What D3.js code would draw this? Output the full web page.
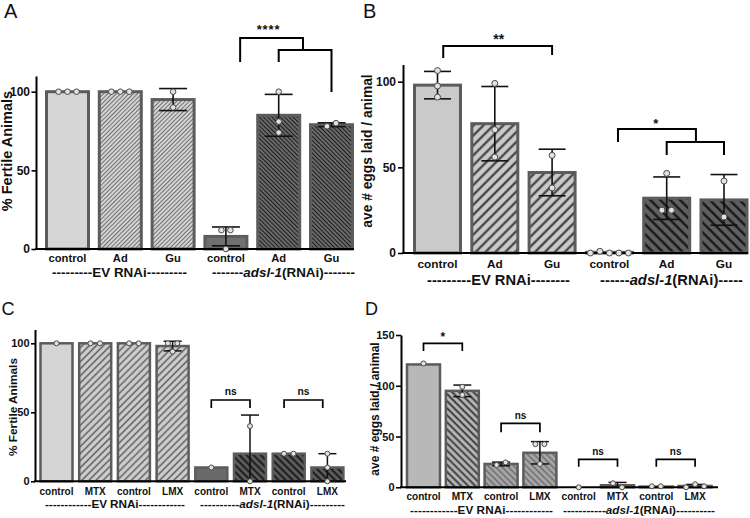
<!DOCTYPE html>
<html><head><meta charset="utf-8">
<script src="https://cdn.jsdelivr.net/npm/d3@7"></script>
<style>
body{margin:0;background:#fff}
svg{display:block}
text{font-family:"Liberation Sans",Arial,Helvetica,sans-serif}
</style>
</head><body>
<svg id="c" width="750" height="518"></svg>
<script>
// ---------------- DATA ----------------
const aCategories = ["control","Ad","Gu","control","Ad","Gu"];
const aMeans = [100,100,95,8,85,79];
const aSD = [0,0,7,6,13.3,1.2];
const aPoints = [[100,100,100],[100,100,100],[100,90],[12,12,0],[100,81,74],[78,80]];
const aTicks = [0,50,100];
const aGroupLabels = ["---------EV RNAi---------","-------adsl-1(RNAi)-------"];
const aSigLabels = ["****"];
const aYLabel = "% Fertile Animals";

const bCategories = ["control","Ad","Gu","control","Ad","Gu"];
const bMeans = [98,75.5,47,0.4,32,31];
const bSD = [8,21.7,13.6,0,12.4,14.8];
const bPoints = [[106.5,97.5,91],[99,72,56],[57,38],[0,1,0,0,0],[46.5,25,25],[42,21]];
const bTicks = [0,50,100];
const bGroupLabels = ["---------EV RNAi--------","------adsl-1(RNAi)-----"];
const bSigLabels = ["**","*"];
const bYLabel = "ave # eggs laid / animal";

const cCategories = ["control","MTX","control","LMX","control","MTX","control","LMX"];
const cMeans = [100,100,100,98,10,20,20,10];
const cSD = [0,0,0,3.5,0,28,0,10];
const cPoints = [[100],[100,100],[100,100],[100,100,94],[10],[40,0],[20,20],[20,10,0]];
const cTicks = [0,50,100];
const cGroupLabels = ["------------EV RNAi------------","----------adsl-1(RNAi)---------"];
const cSigLabels = ["ns","ns"];
const cYLabel = "% Fertile Animals";

const dCategories = ["control","MTX","control","LMX","control","MTX","control","LMX"];
const dMeans = [121,95,23,34,0,2,0.7,1.3];
const dSD = [0,5.7,1.8,11,0,2.8,0,1.5];
const dPoints = [[122],[99,91],[22,24.5],[42.5,42.5,23],[0],[4,0],[1,1],[0,3,1]];
const dTicks = [0,50,100,150];
const dGroupLabels = ["------------EV RNAi------------","-----------adsl-1(RNAi)----------"];
const dSigLabels = ["*","ns","ns","ns"];
const dYLabel = "ave # eggs laid / animal";

const panelLetters = ["A","B","C","D"];

// ---------------- STYLES / PATTERNS ----------------
const svg = d3.select('#c');
const defs = svg.append('defs');
function hatch(id, bg, line, spacing, lw, angle){
  const p = defs.append('pattern').attr('id',id).attr('patternUnits','userSpaceOnUse')
    .attr('width',spacing).attr('height',spacing).attr('patternTransform',`rotate(${angle})`);
  p.append('rect').attr('width',spacing).attr('height',spacing).attr('fill',bg);
  p.append('line').attr('x1',spacing/2).attr('y1',-1).attr('x2',spacing/2).attr('y2',spacing+1)
    .attr('stroke',line).attr('stroke-width',lw);
}
hatch('aL','#d4d4d4','#707070',3,1,45);
hatch('aD','#727272','#1e1e1e',3,1.2,-45);
hatch('bL','#cacaca','#303030',7,2,45);
hatch('bD','#606060','#111111',7,2.2,-45);
hatch('cL','#d0d0d0','#5a5a5a',5,1.5,45);
hatch('cD','#5e5e5e','#111111',5,1.8,-45);
hatch('dM','#b8b8b8','#2e2e2e',5,1.8,-45);
hatch('dL','#a8a8a8','#6a6a6a',4.5,1.5,-45);
hatch('dD','#5e5e5e','#111111',5,1.8,-45);

// ---------------- LAYOUTS ----------------
const layouts = [
 {letter:{x:4,y:18.3,size:20},
  axisX:36, y0:249, yRef:91.7, refVal:100, yMax:110, c0:67.5, step:52.8, barW:42, axisEnd:354,
  tickLen:4.5, tickPad:1.5, tickFont:12, xlabFont:11.2, xlabBase:262, grpFont:13.4, grpBase:277,
  grp:[{cx:119.5,w:135},{cx:283.5,w:143}],
  ylab:{x:11.5,y:151,size:14.5},
  fills:['#d6d6d6','url(#aL)','url(#aL)','#707070','url(#aD)','url(#aD)'],
  barStroke:3, r:2.8, jit:9, cap:14, ebw:1.6, axisW:2, brW:2,
  brackets:[{paths:[[[3.27,118.9],[3.27,134.1],[4.46,134.1],[4.46,126.5]],[[4,118.9],[4,126.5],[5,126.5],[5,99.8]]],lx:3.8,lv:136.4,size:13,tl:23}]
 },
 {letter:{x:363,y:18.3,size:20},
  axisX:403, y0:253, yRef:81.7, refVal:100, yMax:110, c0:437.5, step:57.3, barW:46, axisEnd:748,
  tickLen:5, tickPad:2, tickFont:12, xlabFont:11.8, xlabBase:268, grpFont:14.7, grpBase:285,
  grp:[{cx:498.5,w:143},{cx:671.5,w:143}],
  ylab:{x:371.5,y:151,size:13.8},
  fills:['#cacaca','url(#bL)','url(#bL)','#606060','url(#bD)','url(#bD)'],
  barStroke:3, r:3, jit:9.5, cap:13.5, ebw:1.6, axisW:2, brW:2,
  brackets:[{paths:[[[0.1,113.8],[0.1,120.8],[2,120.8],[2,115.6]]],lx:1.07,lv:122.3,size:14},
            {paths:[[[3.15,64.8],[3.15,72.4],[4.51,72.4],[4.51,64.8]],[[4,57.2],[4,64.8],[5,64.8],[5,57.2]]],lx:3.81,lv:73,size:13}]
 },
 {letter:{x:1.5,y:315,size:18},
  axisX:35, y0:481.3, yRef:343.3, refVal:100, yMax:110, c0:56.5, step:38.7, barW:32, axisEnd:346,
  tickLen:4, tickPad:1.5, tickFont:11, xlabFont:10, xlabBase:495, grpFont:11.7, grpBase:508,
  grp:[{cx:115,w:140},{cx:272.5,w:145}],
  ylab:{x:16.5,y:407,size:11.8},
  fills:['#d4d4d4','url(#cL)','url(#cL)','url(#cL)','#6a6a6a','url(#cD)','url(#cD)','url(#cD)'],
  barStroke:2.5, r:2.5, jit:9.5, cap:9, ebw:1.5, axisW:2, brW:1.7,
  brackets:[{paths:[[[4,53.1],[4,58.9],[5,58.9],[5,53.1]]],lx:4.5,lv:62.5,size:10.3},
            {paths:[[[5.88,53.1],[5.88,58.9],[6.88,58.9],[6.88,53.1]]],lx:6.38,lv:62.5,size:10.3}]
 },
 {letter:{x:365,y:315,size:18},
  axisX:401, y0:487.3, yRef:335, refVal:150, yMax:150, c0:423.5, step:38.8, barW:33, axisEnd:718,
  tickLen:5, tickPad:1.5, tickFont:11, xlabFont:10.1, xlabBase:500, grpFont:11.7, grpBase:514,
  grp:[{cx:481.5,w:143},{cx:639,w:152}],
  ylab:{x:378.5,y:409,size:12},
  fills:['#b8b8b8','url(#dM)','url(#dL)','url(#dL)','#5e5e5e','url(#dD)','url(#dD)','url(#dD)'],
  barStroke:2.5, r:2.5, jit:9, cap:9, ebw:1.5, axisW:2, brW:1.7,
  brackets:[{paths:[[[0,134.2],[0,141.8],[1,141.8],[1,134.2]]],lx:0.5,lv:144,size:12},
            {paths:[[[2,54.2],[2,63],[3,63],[3,54.2]]],lx:2.5,lv:67.3,size:10},
            {paths:[[[4,20.3],[4,27.6],[5,27.6],[5,20.3]]],lx:4.5,lv:31.8,size:10},
            {paths:[[[6,20.3],[6,27.6],[7,27.6],[7,20.3]]],lx:6.5,lv:31.8,size:10}]
 }
];

const panels = [
 {cats:aCategories, means:aMeans, sd:aSD, pts:aPoints, ticks:aTicks, groups:aGroupLabels, sig:aSigLabels, ylabel:aYLabel},
 {cats:bCategories, means:bMeans, sd:bSD, pts:bPoints, ticks:bTicks, groups:bGroupLabels, sig:bSigLabels, ylabel:bYLabel},
 {cats:cCategories, means:cMeans, sd:cSD, pts:cPoints, ticks:cTicks, groups:cGroupLabels, sig:cSigLabels, ylabel:cYLabel},
 {cats:dCategories, means:dMeans, sd:dSD, pts:dPoints, ticks:dTicks, groups:dGroupLabels, sig:dSigLabels, ylabel:dYLabel}
];

function drawPanel(d, L, letter){
  const g = svg.append('g');
  const n = d.cats.length;
  const yTopPx = L.y0 - (L.y0 - L.yRef) * L.yMax / L.refVal;
  const y = d3.scaleLinear().domain([0, L.yMax]).range([L.y0, yTopPx]);
  const pi = 1 - L.barW / L.step;
  const x = d3.scaleBand().domain(d3.range(n))
     .range([L.c0 - L.step/2, L.c0 - L.step/2 + n*L.step]).paddingInner(pi).paddingOuter(pi/2);
  const cx = i => x(i) + x.bandwidth()/2;
  const xf = d3.scaleLinear().domain([0, n-1]).range([cx(0), cx(n-1)]);

  g.append('text').attr('x',L.letter.x).attr('y',L.letter.y).attr('font-size',L.letter.size)
   .attr('fill','#111').text(letter);

  g.selectAll('rect.bar').data(d.means).join('rect').attr('class','bar')
   .attr('x',(v,i)=>x(i)).attr('width',x.bandwidth())
   .attr('y',v=>y(v)).attr('height',v=>Math.max(0,L.y0-y(v)))
   .attr('fill',(v,i)=>L.fills[i]).attr('stroke','#5c5c5c').attr('stroke-width',L.barStroke);

  const ya = g.append('g').attr('transform',`translate(${L.axisX},0)`)
    .call(d3.axisLeft(y).tickValues(d.ticks).tickSize(L.tickLen).tickSizeOuter(0).tickPadding(L.tickPad));
  ya.select('.domain').attr('stroke','#000').attr('stroke-width',L.axisW);
  ya.selectAll('.tick line').attr('stroke','#000').attr('stroke-width',1.6);
  ya.selectAll('.tick text').attr('font-size',L.tickFont).attr('font-weight','bold').attr('fill','#111')
    .attr('font-family','"Liberation Sans",Arial,sans-serif');

  const xa = g.append('g').attr('transform',`translate(0,${L.y0})`)
    .call(d3.axisBottom(x).tickSize(0).tickPadding(0).tickFormat(i=>d.cats[i]));
  xa.select('.domain').remove();
  xa.selectAll('.tick text').attr('y',L.xlabBase-L.y0).attr('dy',0)
    .attr('font-size',L.xlabFont).attr('font-weight','bold').attr('fill','#111')
    .attr('font-family','"Liberation Sans",Arial,sans-serif');
  g.append('line').attr('x1',L.axisX-1).attr('x2',L.axisEnd).attr('y1',L.y0).attr('y2',L.y0)
    .attr('stroke','#000').attr('stroke-width',L.axisW);

  const eb = g.append('g').attr('stroke','#111').attr('stroke-width',L.ebw).attr('fill','none');
  d.means.forEach((m,i)=>{
    const s = d.sd[i]; if(!(s>0)) return;
    const hi = m + s, loRaw = m - s, lo = Math.max(0, loRaw);
    const c = cx(i);
    eb.append('line').attr('x1',c).attr('x2',c).attr('y1',y(lo)).attr('y2',y(hi));
    eb.append('line').attr('x1',c-L.cap).attr('x2',c+L.cap).attr('y1',y(hi)).attr('y2',y(hi));
    if(loRaw >= 0) eb.append('line').attr('x1',c-L.cap).attr('x2',c+L.cap).attr('y1',y(lo)).attr('y2',y(lo));
  });

  const pg = g.append('g');
  d.pts.forEach((arr,i)=>{
    const clusters = [];
    arr.forEach(v=>{
      const py = y(v);
      let cl = clusters.find(c=>Math.abs(c.y-py) < L.r*2.2);
      if(!cl){ cl={y:py, items:[]}; clusters.push(cl); }
      cl.items.push(v);
    });
    clusters.forEach(cl=>{
      const k = cl.items.length;
      cl.items.forEach((v,j)=>{
        pg.append('circle').attr('cx',cx(i)+(j-(k-1)/2)*L.jit).attr('cy',y(v)).attr('r',L.r)
          .attr('fill','#e2e2e2').attr('stroke','#4a4a4a').attr('stroke-width',1);
      });
    });
  });

  const bg = g.append('g');
  L.brackets.forEach((b,k)=>{
    b.paths.forEach(p=>{
      bg.append('path').attr('d',d3.line().x(q=>xf(q[0])).y(q=>y(q[1]))(p))
        .attr('fill','none').attr('stroke','#000').attr('stroke-width',L.brW);
    });
    const t = bg.append('text').attr('x',xf(b.lx)).attr('y',y(b.lv)).attr('text-anchor','middle')
      .attr('font-size',b.size).attr('font-weight','bold').attr('fill','#111').text(d.sig[k]);
    if(b.tl) t.attr('textLength',b.tl).attr('lengthAdjust','spacing');
  });

  d.groups.forEach((s,k)=>{
    const gl = L.grp[k];
    const t = g.append('text').attr('x',gl.cx).attr('y',L.grpBase).attr('text-anchor','middle')
      .attr('font-size',L.grpFont).attr('font-weight','bold').attr('fill','#111')
      .attr('textLength',gl.w).attr('lengthAdjust','spacing');
    const m = s.match(/^(-*)(adsl-1)?(.*?)(-*)$/);
    t.append('tspan').text(m[1]);
    if(m[2]) t.append('tspan').attr('font-style','italic').text(m[2]);
    t.append('tspan').text(m[3]);
    t.append('tspan').text(m[4]);
  });

  g.append('text').attr('transform',`translate(${L.ylab.x},${L.ylab.y}) rotate(-90)`)
   .attr('text-anchor','middle').attr('font-size',L.ylab.size).attr('font-weight','bold')
   .attr('fill','#111').text(d.ylabel);
}

panels.forEach((p,i)=>drawPanel(p, layouts[i], panelLetters[i]));
</script>
</body></html>
